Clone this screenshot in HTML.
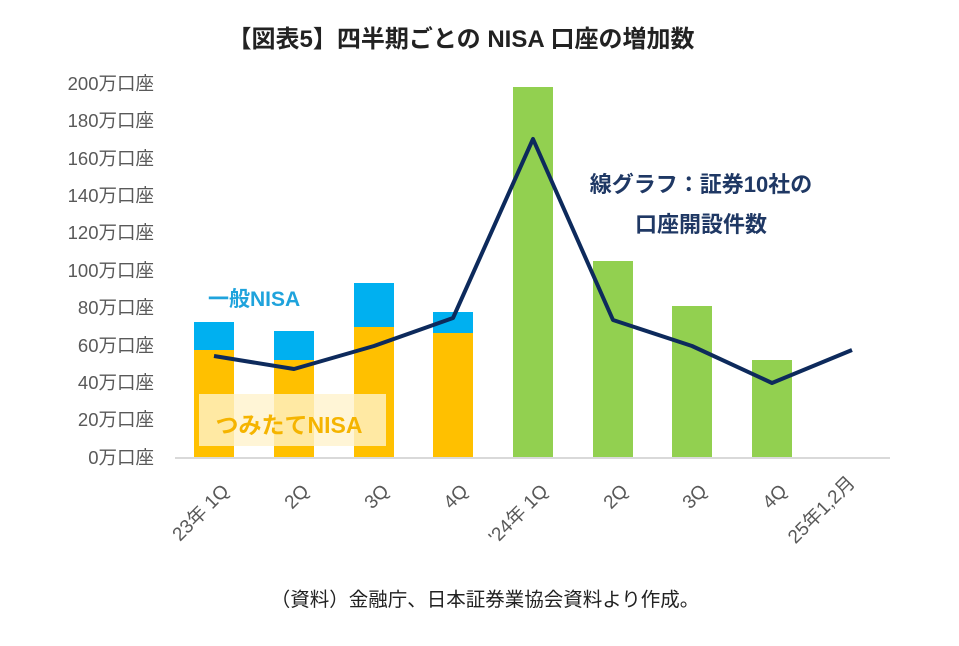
<!DOCTYPE html><html><head><meta charset="utf-8"><style>body{margin:0;background:#fff}svg{display:block}text{font-family:"Liberation Sans","Noto Sans CJK JP",sans-serif}</style></head><body>
<svg width="959" height="646" viewBox="0 0 959 646">
<text x="461" y="47" text-anchor="middle" font-size="24" font-weight="bold" fill="#222">【図表5】四半期ごとの NISA 口座の増加数</text>
<g font-size="18.5" fill="#595959" text-anchor="end">
<text x="154" y="90">200万口座</text><text x="154" y="127">180万口座</text><text x="154" y="165">160万口座</text><text x="154" y="202">140万口座</text><text x="154" y="239">120万口座</text><text x="154" y="277">100万口座</text><text x="154" y="314">80万口座</text><text x="154" y="352">60万口座</text><text x="154" y="389">40万口座</text><text x="154" y="426">20万口座</text><text x="154" y="464">0万口座</text>
</g>
<g fill="#FFC000">
<rect x="194" y="350" width="40" height="108"/><rect x="274" y="360" width="40" height="98"/><rect x="354" y="327" width="40" height="131"/><rect x="433" y="333" width="40" height="125"/></g>
<g fill="#00B0F0">
<rect x="194" y="322" width="40" height="28"/><rect x="274" y="331" width="40" height="29"/><rect x="354" y="283" width="40" height="44"/><rect x="433" y="312" width="40" height="21"/></g>
<g fill="#92D050">
<rect x="513" y="87" width="40" height="371"/><rect x="593" y="261" width="40" height="197"/><rect x="672" y="306" width="40" height="152"/><rect x="752" y="360" width="40" height="98"/></g>
<line x1="175" y1="458" x2="890" y2="458" stroke="#d9d9d9" stroke-width="2"/>
<rect x="199" y="394" width="187" height="52" fill="#FFF2CC" opacity="0.8"/>
<text x="289" y="433" text-anchor="middle" font-size="23" font-weight="bold" fill="#F5B400">つみたてNISA</text>
<text x="208" y="306" font-size="21" font-weight="bold" fill="#1FA3DC">一般NISA</text>
<polyline points="214,356 294,369 374,346 453,318 533,139 613,320 692,346 772,383 852,350" fill="none" stroke="#0D2A5C" stroke-width="4" stroke-linejoin="round"/>
<g font-size="22" font-weight="bold" fill="#1F3864" text-anchor="middle"><text x="701" y="192">線グラフ：証券10社の</text><text x="701" y="232">口座開設件数</text></g>
<g font-size="19" fill="#595959" text-anchor="end">
<text transform="translate(230,492) rotate(-45)">23年 1Q</text>
<text transform="translate(310,492) rotate(-45)">2Q</text>
<text transform="translate(390,492) rotate(-45)">3Q</text>
<text transform="translate(469,492) rotate(-45)">4Q</text>
<text transform="translate(549,492) rotate(-45)">'24年 1Q</text>
<text transform="translate(629,492) rotate(-45)">2Q</text>
<text transform="translate(708,492) rotate(-45)">3Q</text>
<text transform="translate(788,492) rotate(-45)">4Q</text>
<text transform="translate(856,484) rotate(-45)">25年1,2月</text>
</g>
<text x="485" y="606" text-anchor="middle" font-size="19.5" fill="#222">（資料）金融庁、日本証券業協会資料より作成。</text>
</svg></body></html>
